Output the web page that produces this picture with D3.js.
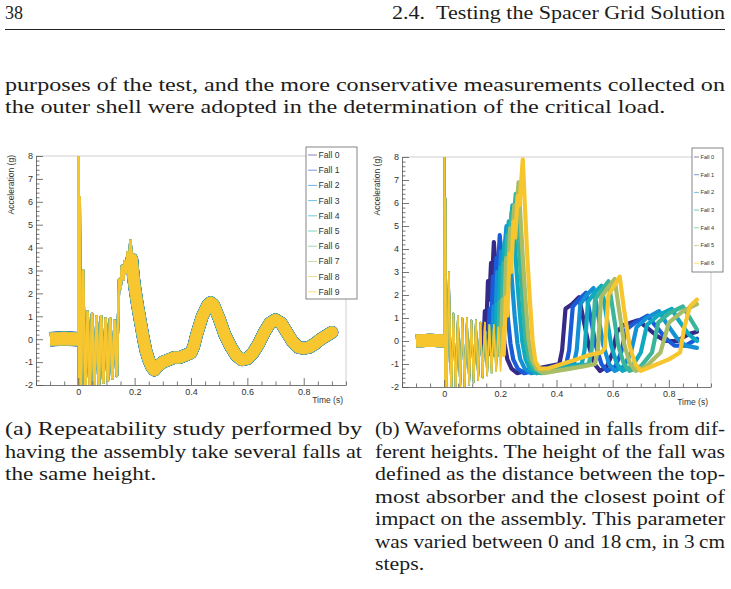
<!DOCTYPE html>
<html><head><meta charset="utf-8">
<script src="https://cdn.jsdelivr.net/npm/d3@7"></script>
<style>body{margin:0;background:#fff}svg{display:block}</style>
</head><body>
<svg id="page" width="731" height="589"></svg>
<script>
// ================= DATA =================
const fallsA = ["Fall 0","Fall 1","Fall 2","Fall 3","Fall 4","Fall 5","Fall 6","Fall 7","Fall 8","Fall 9"];
const fallsB = ["Fall 0","Fall 1","Fall 2","Fall 3","Fall 4","Fall 5","Fall 6"];
const xTickValues = [0, 0.2, 0.4, 0.6, 0.8];
const xTickLabels = ["0", "0.2", "0.4", "0.6", "0.8"];
const yTickValues = [-2, -1, 0, 1, 2, 3, 4, 5, 6, 7, 8];
const yTickLabels = ["-2", "-1", "0", "1", "2", "3", "4", "5", "6", "7", "8"];

// [time (s), acceleration (g)]
const preImpact = [[-0.1,0.0],[-0.05,0.03],[0.0,0.0]];
const ringdown = [[0,0],[0.001,9.5],[0.003,-3],[0.005,6.2],[0.008,-3],[0.017,3.0],[0.025,-2.4],[0.033,1.2],[0.041,-2.2],
  [0.049,1.1],[0.057,-2.1],[0.065,1.0],[0.073,-2.0],[0.081,1.0],[0.089,-1.9],[0.097,0.9],[0.105,-1.8],[0.113,0.9],
  [0.121,-1.7],[0.129,0.8],[0.137,-1.6],[0.145,0.8],[0.153,-1.5],[0.161,0.7],[0.169,-1.4],[0.177,0.7],[0.185,-1.3],
  [0.193,0.6],[0.201,-1.3],[0.209,0.6],[0.217,-1.2],[0.225,0.5],[0.233,-1.2],[0.241,0.5]];

// (a) repeatability: all falls follow the same waveform after the ring-down
const waveA = [[0.14,0.2],[0.145,2.6],[0.15,2.2],[0.155,3.2],[0.16,2.6],[0.165,3.4],[0.17,2.9],[0.175,3.8],[0.18,3.2],[0.185,4.3],
  [0.19,3.5],[0.195,2.8],[0.20,2.3],[0.21,1.5],[0.22,0.8],[0.23,0.1],[0.24,-0.5],[0.25,-0.9],[0.26,-1.2],[0.27,-1.35],
  [0.28,-1.2],[0.30,-1.0],[0.32,-0.9],[0.34,-0.8],[0.36,-0.8],[0.38,-0.7],[0.40,-0.6],[0.41,-0.3],[0.42,0.2],[0.44,1.0],
  [0.46,1.5],[0.47,1.6],[0.48,1.5],[0.50,0.9],[0.52,0.2],[0.54,-0.3],[0.56,-0.7],[0.58,-0.9],[0.60,-0.85],[0.62,-0.6],
  [0.64,-0.2],[0.66,0.3],[0.68,0.7],[0.70,0.85],[0.72,0.7],[0.74,0.3],[0.76,-0.1],[0.78,-0.35],[0.80,-0.4],[0.82,-0.35],
  [0.84,-0.2],[0.86,0.0],[0.88,0.15],[0.90,0.3]];

// (b) falls from different heights
const waveB0 = [[0.138,-0.6],[0.145,1.3],[0.150,0.5],[0.156,2.6],[0.161,1.8],[0.167,3.4],[0.171,2.7],[0.177,4.3],[0.183,3.3],
  [0.189,3.5],[0.196,2.2],[0.205,1.0],[0.215,-0.1],[0.225,-0.8],[0.240,-1.2],[0.260,-1.4],[0.290,-1.3],[0.330,-1.2],
  [0.370,-1.1],[0.410,-1.0],[0.420,-0.4],[0.432,1.4],[0.455,1.6],[0.480,1.9],[0.495,1.0],[0.515,-0.2],[0.535,-1.0],
  [0.555,-1.3],[0.580,-1.1],[0.600,-0.5],[0.615,0.4],[0.640,0.7],[0.690,0.9],[0.720,0.6],[0.760,0.2],[0.790,0.0],
  [0.830,0.0],[0.870,0.3],[0.900,0.4]];
const waveB1 = [[0.155,-0.6],[0.162,1.4],[0.167,0.6],[0.174,2.8],[0.179,2.0],[0.186,3.6],[0.191,3.0],[0.198,4.6],[0.204,3.6],
  [0.210,3.7],[0.217,2.4],[0.226,1.1],[0.236,-0.1],[0.246,-0.8],[0.262,-1.2],[0.285,-1.4],[0.320,-1.3],[0.360,-1.2],
  [0.400,-1.1],[0.435,-1.0],[0.445,-0.4],[0.458,1.5],[0.480,1.8],[0.505,2.1],[0.520,1.1],[0.540,-0.2],[0.560,-1.0],
  [0.580,-1.3],[0.610,-1.1],[0.630,-0.5],[0.648,0.5],[0.680,0.8],[0.725,1.1],[0.750,0.7],[0.790,0.1],[0.820,-0.2],
  [0.860,-0.2],[0.900,0.1]];
const waveB2 = [[0.168,-0.6],[0.176,1.5],[0.181,0.7],[0.189,3.0],[0.195,2.2],[0.203,3.9],[0.209,3.2],[0.222,5.0],[0.228,4.0],
  [0.234,3.8],[0.242,2.5],[0.251,1.1],[0.261,-0.1],[0.271,-0.8],[0.287,-1.2],[0.310,-1.4],[0.350,-1.3],[0.390,-1.2],
  [0.430,-1.1],[0.462,-1.0],[0.472,-0.4],[0.485,1.6],[0.507,2.0],[0.532,2.3],[0.547,1.2],[0.567,-0.2],[0.587,-1.0],
  [0.607,-1.3],[0.640,-1.1],[0.665,-0.5],[0.685,0.6],[0.720,1.0],[0.765,1.3],[0.790,0.8],[0.830,0.1],[0.860,-0.2],
  [0.900,-0.3]];
const waveB3 = [[0.180,-0.6],[0.188,1.6],[0.193,0.8],[0.201,3.2],[0.207,2.4],[0.215,4.3],[0.221,3.6],[0.230,5.2],[0.236,4.8],
  [0.243,5.9],[0.250,4.6],[0.258,3.0],[0.268,1.4],[0.278,0.0],[0.290,-0.8],[0.305,-1.2],[0.330,-1.4],[0.370,-1.3],
  [0.410,-1.2],[0.450,-1.1],[0.490,-1.0],[0.500,-0.4],[0.512,1.7],[0.535,2.1],[0.560,2.4],[0.575,1.3],[0.595,-0.2],
  [0.615,-1.0],[0.635,-1.3],[0.670,-1.1],[0.700,-0.5],[0.722,0.7],[0.760,1.1],[0.810,1.4],[0.835,0.9],[0.870,0.3],
  [0.900,0.0]];
const waveB4 = [[0.190,-0.6],[0.198,1.7],[0.203,0.9],[0.211,3.4],[0.217,2.6],[0.225,4.6],[0.231,3.9],[0.240,5.6],[0.246,5.1],
  [0.255,6.4],[0.262,5.0],[0.270,3.4],[0.280,1.6],[0.290,0.1],[0.302,-0.8],[0.318,-1.2],[0.345,-1.4],[0.390,-1.3],
  [0.430,-1.2],[0.480,-1.1],[0.515,-1.0],[0.525,-0.4],[0.537,1.8],[0.560,2.2],[0.585,2.6],[0.600,1.4],[0.620,-0.2],
  [0.640,-1.0],[0.660,-1.3],[0.700,-1.1],[0.740,-0.5],[0.762,0.8],[0.800,1.2],[0.850,1.5],[0.875,1.0],[0.900,0.5]];
const waveB5 = [[0.200,-0.6],[0.208,1.8],[0.213,1.0],[0.221,3.6],[0.227,2.8],[0.235,4.9],[0.241,4.2],[0.250,5.9],[0.256,5.4],
  [0.265,6.9],[0.272,5.3],[0.280,3.6],[0.290,1.7],[0.300,0.1],[0.312,-0.8],[0.328,-1.2],[0.355,-1.4],[0.400,-1.3],
  [0.450,-1.2],[0.500,-1.1],[0.537,-1.0],[0.547,-0.4],[0.559,1.9],[0.582,2.3],[0.607,2.7],[0.622,1.4],[0.642,-0.2],
  [0.662,-1.0],[0.682,-1.3],[0.720,-1.1],[0.770,-0.5],[0.800,0.8],[0.850,1.3],[0.900,1.6]];
const waveB6 = [[0.212,-0.6],[0.220,1.9],[0.225,1.1],[0.233,3.8],[0.239,3.0],[0.247,5.2],[0.253,4.5],[0.262,6.3],[0.268,5.9],
  [0.280,7.9],[0.287,6.0],[0.295,3.9],[0.305,1.8],[0.315,0.0],[0.325,-0.9],[0.340,-1.2],[0.370,-1.2],[0.420,-1.0],
  [0.470,-0.8],[0.520,-0.6],[0.560,-0.5],[0.572,-0.3],[0.585,2.0],[0.605,2.4],[0.625,2.8],[0.640,1.4],[0.660,-0.2],
  [0.680,-1.0],[0.700,-1.3],[0.740,-1.1],[0.800,-0.8],[0.840,-0.5],[0.855,0.6],[0.875,1.5],[0.900,1.8]];
const wavesB = [waveB0, waveB1, waveB2, waveB3, waveB4, waveB5, waveB6];

// text
const headerLeft = "38";
const headerRight = "2.4.\u2002Testing the Spacer Grid Solution";
const bodyLines = ["purposes of the test, and the more conservative measurements collected on",
  "the outer shell were adopted in the determination of the critical load."];
const captionA = ["(a) Repeatability study performed by", "having the assembly take several falls at", "the same height."];
const captionB = ["(b) Waveforms obtained in falls from dif-", "ferent heights. The height of the fall was",
  "defined as the distance between the top-", "most absorber and the closest point of",
  "impact on the assembly. This parameter", "was varied between 0 and 18\u2009cm, in 3\u2009cm", "steps."];

// ================= STYLE =================
const colorsA = ["#3a2c8f","#2250d6","#1474d8","#0c95d0","#0aaac0","#2cb4a2","#68bb80","#a4bd66","#d8bf50","#f8c62e"];
const colorsB = ["#352a87","#1a5cd8","#1490d4","#0fa9c0","#3ab59a","#a8bd66","#f7c52e"];
const serif = "Liberation Serif, Times New Roman, serif";
const sans = "Liberation Sans, Arial, Helvetica, sans-serif";
const ink = "#1c1c1c";

const svg = d3.select("#page");

// ---------- text block helper ----------
function textBlock(lines, x0, width, y0, lh, size) {
  const g = svg.append("g");
  const nodes = lines.map((s, i) => g.append("text").attr("x", x0).attr("y", y0 + i * lh)
    .attr("font-family", serif).attr("font-size", size).attr("fill", ink).text(s));
  const natural = nodes.map(n => n.node().getComputedTextLength());
  const ratios = [];
  nodes.forEach((n, i) => { if (i < lines.length - 1) ratios.push(width / natural[i]); });
  const r = ratios.length ? d3.mean(ratios) : 1.15;
  nodes.forEach((n, i) => {
    const w = (i < lines.length - 1) ? width : Math.min(width, natural[i] * r);
    n.attr("textLength", w).attr("lengthAdjust", "spacingAndGlyphs");
  });
  return r;
}

textBlock(bodyLines, 5, 720, 91, 22.3, 18);
textBlock(captionA, 5, 357, 435, 22.5, 18);
textBlock(captionB, 375, 350, 435, 22.5, 18);

// header
svg.append("text").attr("x", 5).attr("y", 19).attr("font-family", serif).attr("font-size", 18).attr("fill", ink).text(headerLeft);
svg.append("text").attr("x", 725).attr("y", 19).attr("text-anchor", "end").attr("font-family", serif).attr("font-size", 18).attr("fill", ink)
  .attr("textLength", 333).attr("lengthAdjust", "spacingAndGlyphs").text(headerRight);
svg.append("line").attr("x1", 5).attr("x2", 725).attr("y1", 29.5).attr("y2", 29.5).attr("stroke", "#222").attr("stroke-width", 1);

// ---------- chart helper ----------
function chart(opt) {
  const x = d3.scaleLinear().domain([-0.15, 0.95]).range([opt.left, opt.right]);
  const y = d3.scaleLinear().domain([-2, 8]).range([opt.bottom, opt.top]);
  const g = svg.append("g");
  const clipId = "clip" + opt.id;
  g.append("clipPath").attr("id", clipId).append("rect")
    .attr("x", opt.left).attr("y", opt.top).attr("width", opt.right - opt.left).attr("height", opt.bottom - opt.top);
  g.append("path").attr("d", `M${opt.left},${opt.top}H${opt.right}V${opt.bottom}`).attr("fill", "none").attr("stroke", "#cfcfcf").attr("stroke-width", 1);

  const line = d3.line().x(d => x(d[0])).y(d => y(d[1]));
  const plot = g.append("g").attr("clip-path", `url(#${clipId})`);
  opt.series.forEach((s, i) => {
    const onset = s.wave[0][0];
    const split = s.thinUntil != null ? s.thinUntil : onset;
    const thin = ringdown.filter(d => d[0] < onset).concat(s.wave.filter(d => d[0] <= split + 1e-9));
    const thick = s.wave.filter(d => d[0] >= split - 1e-9);
    const gs = plot.append("g").attr("fill", "none").attr("stroke", s.color).attr("stroke-linejoin", "round").attr("stroke-linecap", "round");
    gs.append("path").attr("d", line(preImpact)).attr("stroke-width", s.preWidth).attr("stroke-linecap", "butt");
    gs.append("path").attr("d", line(thin)).attr("stroke-width", s.ringWidth);
    gs.append("path").attr("d", line(thick)).attr("stroke-width", s.bodyWidth);
  });

  // axes
  const axG = g.append("g").attr("font-family", sans);
  axG.append("g").attr("transform", `translate(0,${opt.bottom})`)
    .call(d3.axisBottom(x).tickValues(xTickValues).tickFormat((d, i) => xTickLabels[i]).tickSize(-7).tickSizeOuter(0).tickPadding(4));
  axG.append("g").attr("transform", `translate(0,${opt.bottom})`)
    .call(d3.axisBottom(x).tickValues(d3.range(-0.15, 0.951, 0.05).filter(v => !xTickValues.some(t => Math.abs(t - v) < 1e-6))).tickFormat("").tickSize(-3.5).tickSizeOuter(0))
    .select(".domain").remove();
  axG.append("g").attr("transform", `translate(${opt.left},0)`)
    .call(d3.axisLeft(y).tickValues(yTickValues).tickFormat((d, i) => yTickLabels[i]).tickSize(-7).tickSizeOuter(0).tickPadding(3));
  axG.append("g").attr("transform", `translate(${opt.left},0)`)
    .call(d3.axisLeft(y).tickValues(d3.range(-2, 8.001, 0.2).filter(v => Math.abs(v - Math.round(v)) > 1e-6)).tickFormat("").tickSize(-3.5).tickSizeOuter(0))
    .select(".domain").remove();
  axG.selectAll(".domain, .tick line").attr("stroke", "#555").attr("stroke-width", 0.8);
  axG.selectAll(".tick text").attr("fill", "#333").attr("font-size", 9);
  g.append("text").attr("transform", `translate(${opt.left - 22},${opt.top - 1}) rotate(-90)`).attr("text-anchor", "end")
    .attr("font-family", sans).attr("font-size", 8.5).attr("fill", "#333").text("Acceleration (g)");
  g.append("text").attr("x", opt.right - 3).attr("y", opt.bottom + 18).attr("text-anchor", "end")
    .attr("font-family", sans).attr("font-size", 8.5).attr("fill", "#333").text("Time (s)");

  // legend
  const L = opt.legend;
  const lg = g.append("g");
  lg.append("rect").attr("x", L.x).attr("y", L.y).attr("width", L.w).attr("height", L.h).attr("fill", "#fff").attr("stroke", "#666").attr("stroke-width", 0.8);
  opt.series.forEach((s, i) => {
    const yy = L.y + L.first + i * L.step;
    lg.append("line").attr("x1", L.x + 2).attr("x2", L.x + L.lineLen).attr("y1", yy).attr("y2", yy).attr("stroke", s.color).attr("stroke-width", 1).attr("stroke-opacity", 0.6);
    lg.append("text").attr("x", L.x + L.lineLen + 1.5).attr("y", yy).attr("dy", "0.35em").attr("font-family", sans)
      .attr("font-size", L.font).attr("fill", "#333").text(s.name);
  });
}

chart({
  id: "A", left: 36, right: 346, top: 156, bottom: 385,
  series: fallsA.map((name, i) => ({ name, color: colorsA[i], wave: waveA, thinUntil: 0.19,
    preWidth: i < 9 ? 14.5 - 0.15 * i : 12, ringWidth: i < 9 ? 2.6 : 2, bodyWidth: i < 9 ? 12.8 - 0.12 * i : 11 })),
  legend: { x: 306, y: 147, w: 51, h: 152, first: 8, step: 15.2, lineLen: 11, font: 8.6 }
});
chart({
  id: "B", left: 402, right: 711, top: 157, bottom: 387,
  series: fallsB.map((name, i) => ({ name, color: colorsB[i], wave: wavesB[i],
    preWidth: 13, ringWidth: 1.6, bodyWidth: 4.2 })),
  legend: { x: 692, y: 148, w: 31, h: 124, first: 9, step: 17.7, lineLen: 7, font: 5.6 }
});
</script>
</body></html>
